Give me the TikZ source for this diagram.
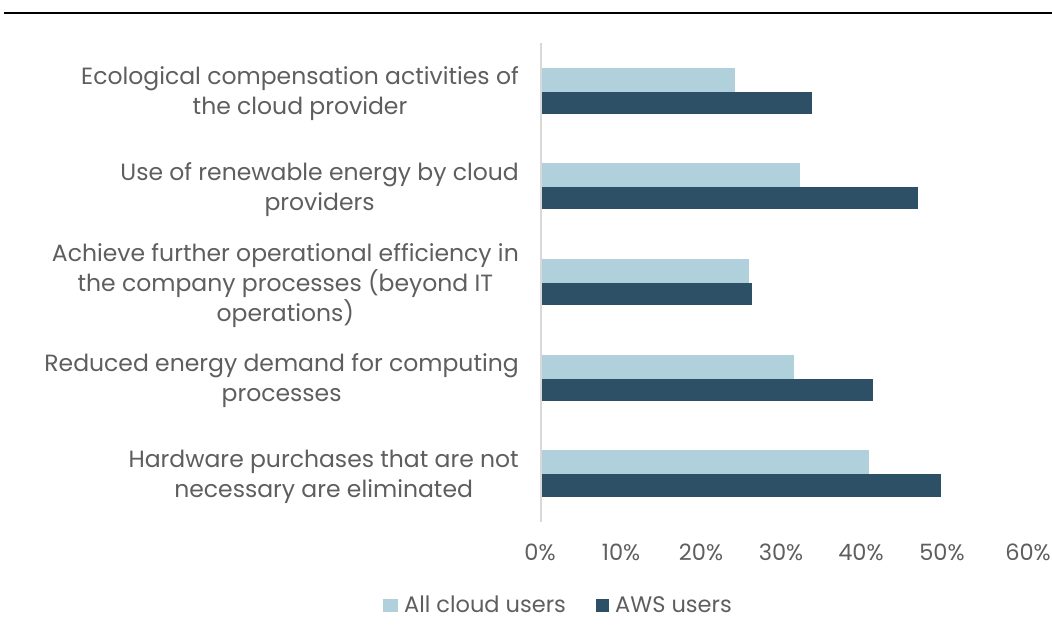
\documentclass[tikz,border=0pt]{standalone}
\usepackage{fontspec}
\setmainfont{Poppins}
\usetikzlibrary{positioning}
\definecolor{cAll}{HTML}{B0D1DC}
\definecolor{cAws}{HTML}{2D5066}
\definecolor{cAxis}{HTML}{D9D9D9}
\definecolor{cText}{HTML}{5E5E5E}
\tikzset{
  lab/.style={anchor=east, align=center, inner sep=0pt, text=cText,
              font=\fontsize{23.5}{30}\selectfont},
  tick/.style={anchor=base, inner sep=0pt, text=cText,
               font=\fontsize{22.5}{24}\selectfont},
  leg/.style={anchor=base west, inner sep=0pt, text=cText,
              font=\fontsize{22.5}{24}\selectfont},
  allbar/.style={fill=cAll},
  awsbar/.style={fill=cAws},
}
% value in percent -> x position
\newcommand{\px}[1]{541+8.03*#1}

\begin{document}
\begin{tikzpicture}[x=1pt,y=-1pt]
  \useasboundingbox (0,0) rectangle (1052,635);
  \draw[line width=2.2pt] (4,13) -- (1052,13);

  % bars
  \fill[allbar] (541,67.5)  rectangle ({\px{24.1}},91.7);
  \fill[awsbar] (541,91.7)  rectangle ({\px{33.8}},113.5);
  \fill[allbar] (541,163.3) rectangle ({\px{32.3}},187.3);
  \fill[awsbar] (541,187.3) rectangle ({\px{47.0}},209.3);
  \fill[allbar] (541,259)   rectangle ({\px{25.9}},283);
  \fill[awsbar] (541,283)   rectangle ({\px{26.3}},305);
  \fill[allbar] (541,354.7) rectangle ({\px{31.5}},378.7);
  \fill[awsbar] (541,378.7) rectangle ({\px{41.3}},400.7);
  \fill[allbar] (541,450.3) rectangle ({\px{40.8}},474.4);
  \fill[awsbar] (541,474.4) rectangle ({\px{49.8}},496.6);

  \draw[cAxis, line width=1.5pt] (541,42.7) -- (541,521.7);

  % category labels
  \node[lab] (eco) at (519,94) {Ecological compensation activities of\\the cloud provider};
  \node[lab] (ren) at (519,189.5) {Use of renewable energy by cloud\\providers};
  \node[lab] (ach) at (519,285.5) {Achieve further operational efficiency in\\the company processes (beyond IT\\operations)};
  \node[lab] (red) at (519,381) {Reduced energy demand for computing\\processes};
  \node[lab] (hw)  at (519,476.5) {Hardware purchases that are not\\necessary are eliminated};

  % axis ticks
  \node[tick] (t0) at (540,560.5) {0\%};
  \node[tick] (t1) at (621,560.5) {10\%};
  \node[tick] (t2) at (701,560.5) {20\%};
  \node[tick] (t3) at (781,560.5) {30\%};
  \node[tick] (t4) at (861,560.5) {40\%};
  \node[tick] (t5) at (942,560.5) {50\%};
  \node[tick] (t6) at (1028,560.5) {60\%};

  % legend
  \fill[allbar] (383.3,599) rectangle (398.3,612.3);
  \node[leg] (lall) at (404,612) {All cloud users};
  \fill[awsbar] (596,599) rectangle (609.3,612.3);
  \node[leg] (laws) at (615,612) {AWS users};
\end{tikzpicture}
\end{document}
